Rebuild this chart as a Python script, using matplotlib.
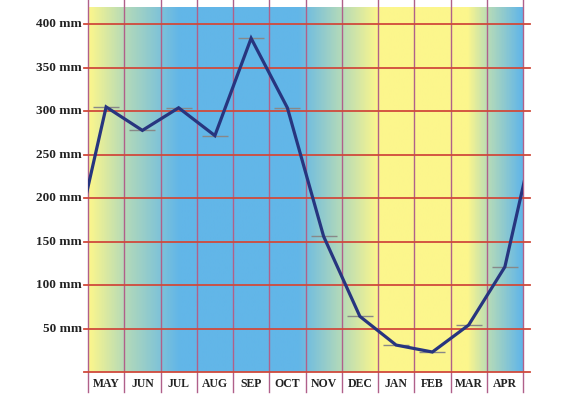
import numpy as np
import matplotlib
matplotlib.use("Agg")
import matplotlib.pyplot as plt
from matplotlib.colors import LinearSegmentedColormap

months = ["MAY", "JUN", "JUL", "AUG", "SEP", "OCT", "NOV", "DEC", "JAN", "FEB", "MAR", "APR"]
rain_mm = [305, 278, 304, 272, 384, 304, 156, 64, 31, 23, 54, 121]
yticks = [50, 100, 150, 200, 250, 300, 350, 400]
ytick_labels = [f"{v} mm" for v in yticks]

fig = plt.figure(figsize=(5.7, 3.96), dpi=100)
ax = fig.add_axes([88/570, 1-372/396, 435/570, 365/396])
n = len(months)
x = np.arange(1, n + 1)
ax.set_xlim(0.5, n + 0.5)
ax.set_ylim(0, 420)

# background gradient (seasonal colours)
yellow = (252/255, 246/255, 140/255)
green = (180/255, 218/255, 185/255)
blue = (98/255, 182/255, 232/255)
stops = [(0.5, yellow), (1.5, green), (3.0, blue), (6.3, blue), (7.5, green),
         (8.5, yellow), (11.0, yellow), (11.6, green), (12.5, blue)]
cmap = LinearSegmentedColormap.from_list(
    "season", [((s - 0.5) / n, c) for s, c in stops])
grad = np.linspace(0, 1, 600).reshape(1, -1)
ax.imshow(grad, cmap=cmap, aspect="auto", extent=[0.5, n + 0.5, 0, 420],
          interpolation="bilinear", zorder=0)

for s in ax.spines.values():
    s.set_visible(False)
ax.set_xticks([])
ax.set_yticks([])

# vertical month separators
for i in range(n + 1):
    xa = i / n
    ax.plot([xa, xa], [-0.055, 1.019], transform=ax.transAxes, color="#b0608a",
            lw=1.0, clip_on=False, zorder=2)

# horizontal grid lines
for v in [0] + yticks:
    ya = v / 420
    ax.plot([-4/435, 1 + 7/435], [ya, ya], transform=ax.transAxes, color="#d04a3c",
            lw=1.3, clip_on=False, zorder=2)

# y labels
for v, lab in zip(yticks, ytick_labels):
    ax.text(-6/435, v, lab, transform=ax.get_yaxis_transform(), ha="right", va="center",
            fontsize=9.5, fontweight="bold", family="Liberation Serif", color="#222222")

# month labels
for xi, m in zip(x, months):
    ax.text(xi, -12/365, m, transform=ax.get_xaxis_transform(), ha="center", va="center",
            fontsize=8.5, fontweight="bold", family="Liberation Serif", color="#222222")

# markers
ax.plot(x, rain_mm, ls="none", marker="_", ms=19, mew=1.0, color="#888888", zorder=3)

# cyclic line
xc = np.concatenate([[0], x, [n + 1]])
yc = np.concatenate([[rain_mm[-1]], rain_mm, [rain_mm[0]]])
ax.plot(xc, yc, color="#27357f", lw=2.3, zorder=4, solid_joinstyle="miter")

fig.savefig("out.png", dpi=100)
